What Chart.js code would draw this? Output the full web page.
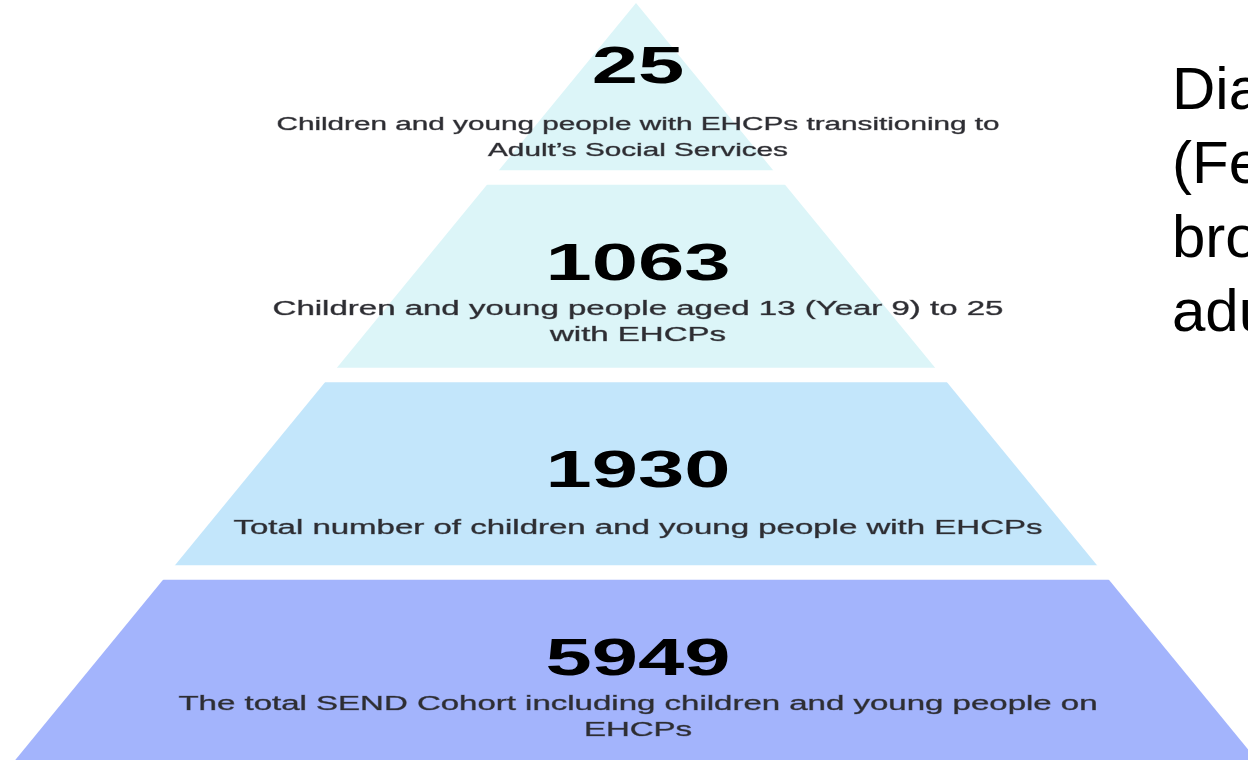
<!DOCTYPE html>
<html>
<head>
<meta charset="utf-8">
<script src="https://cdn.jsdelivr.net/npm/chart.js@4.4.1/dist/chart.umd.min.js"></script>
<style>
  html, body { margin: 0; padding: 0; background: #fff; overflow: hidden; width: 1248px; height: 760px; }
  .chart-wrap { position: absolute; left: 0; top: -20px; width: 1272px; height: 790px; }
  .side-note {
    position: absolute; left: 1172px; top: 52px;
    font: 60px "Liberation Sans", Arial, sans-serif; line-height: 74px;
    color: #000; white-space: nowrap;
  }
</style>
</head>
<body>
<div class="chart-wrap"><canvas id="pyramid"></canvas></div>
<div class="side-note">Diagram 1<br>(February 2024)<br>broken down by<br>adulthood</div>
<script>
// pyramid levels, top to bottom
const levels = ['Adult transition', 'Aged 13 to 25', 'All EHCPs', 'SEND cohort'];
const counts = [25, 1063, 1930, 5949];
const descriptions = [
  ['Children and young people with EHCPs transitioning to', 'Adult\u2019s Social Services'],
  ['Children and young people aged 13 (Year 9) to 25', 'with EHCPs'],
  ['Total number of children and young people with EHCPs'],
  ['The total SEND Cohort including children and young people on', 'EHCPs'],
];

const bandColors = ['#dcf5f8', '#dcf5f8', '#c3e6fb', '#a3b4fc'];
const descFontSizes = [18, 20, 20, 20];
const apexInset = 23;     // px from chart top to the pyramid tip
const edgeSlope = 0.82;   // half-width grows this much per px down
const numberStretch = 1.6;
const textStretch = 1.65; // the source graphic is stretched sideways

// clip the full-width bands to the pyramid outline
const pyramidClip = {
  id: 'pyramidClip',
  beforeDatasetsDraw(chart) {
    const { ctx, chartArea, scales: { x } } = chart;
    const cx = x.getPixelForValue(0);
    const apexY = chartArea.top + apexInset;
    const spread = (chartArea.bottom - apexY) * edgeSlope;
    ctx.save();
    ctx.beginPath();
    ctx.moveTo(cx, apexY);
    ctx.lineTo(cx + spread, chartArea.bottom);
    ctx.lineTo(cx - spread, chartArea.bottom);
    ctx.closePath();
    ctx.clip();
  },
  afterDatasetsDraw(chart) {
    chart.ctx.restore();
  }
};

function stretchedText(ctx, text, x, y, sx, stroke) {
  ctx.save();
  ctx.translate(x, y);
  ctx.scale(sx, 1);
  ctx.fillText(text, 0, 0);
  if (stroke) ctx.strokeText(text, 0, 0);
  ctx.restore();
}

// count + description in each band
const bandLabels = {
  id: 'bandLabels',
  afterDraw(chart) {
    const { ctx, chartArea, scales: { x } } = chart;
    const cx = x.getPixelForValue(0) + 2;
    const apexY = chartArea.top + apexInset;
    ctx.save();
    ctx.textAlign = 'center';
    ctx.textBaseline = 'alphabetic';
    chart.getDatasetMeta(0).data.forEach((bar, i) => {
      const { y, height } = bar.getProps(['y', 'height'], true);
      const mid = (Math.max(y - height / 2, apexY) + y + height / 2) / 2;
      const lines = descriptions[i];
      const extra = 2 - lines.length;

      ctx.fillStyle = '#000';
      ctx.font = 'bold 52px "Liberation Sans", Arial, sans-serif';
      stretchedText(ctx, String(counts[i]), cx, y + 4 + extra * 9, numberStretch, false);

      ctx.fillStyle = '#2e2e33';
      ctx.strokeStyle = 'rgba(46,46,51,0.55)';
      ctx.lineWidth = 0.6;
      ctx.font = descFontSizes[i] + 'px "Liberation Sans", Arial, sans-serif';
      const first = mid + 52 + extra * 8 - (lines.length - 1) * 13 + (mid - y) * 0.6;
      lines.forEach((line, k) => stretchedText(ctx, line, cx, first + k * 26, textStretch, true));
    });
    ctx.restore();
  }
};

new Chart(document.getElementById('pyramid'), {
  type: 'bar',
  data: {
    labels: levels,
    datasets: [{
      label: 'Children and young people',
      data: levels.map(() => [-1, 1]),
      backgroundColor: bandColors,
      borderWidth: 0,
      barPercentage: 0.927,
      categoryPercentage: 1
    }]
  },
  options: {
    indexAxis: 'y',
    responsive: true,
    maintainAspectRatio: false,
    animation: false,
    events: [],
    layout: { padding: 0 },
    plugins: {
      legend: { display: false },
      tooltip: { enabled: false }
    },
    scales: {
      x: { type: 'linear', min: -1, max: 1, display: false },
      y: { display: false }
    }
  },
  plugins: [pyramidClip, bandLabels]
});
</script>
</body>
</html>
